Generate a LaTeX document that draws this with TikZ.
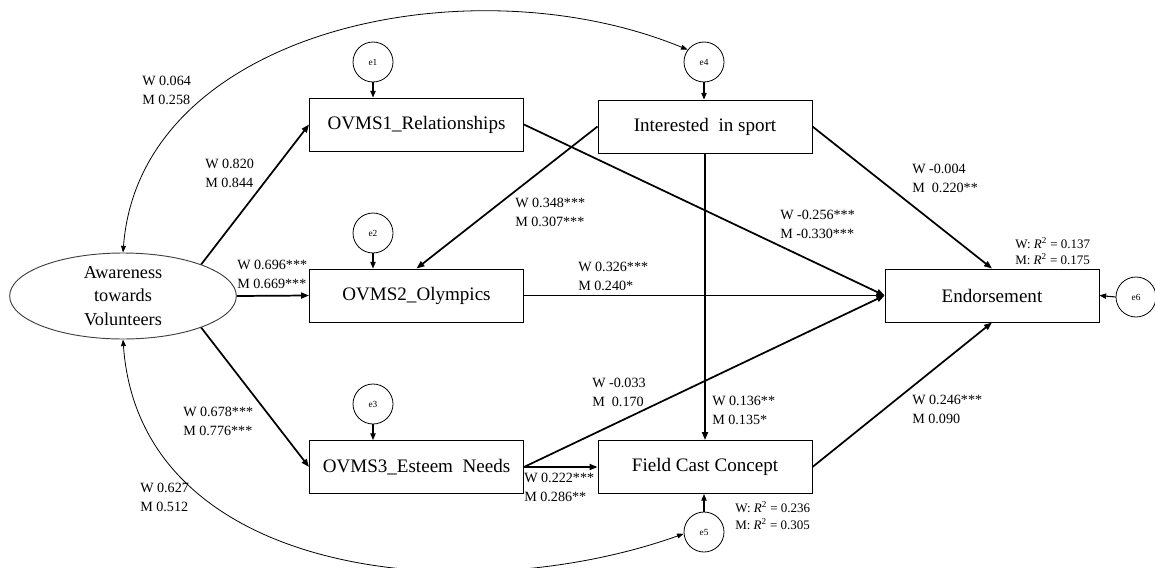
\documentclass[tikz,border=0pt]{standalone}
\usepackage{fontspec}
\setmainfont{Liberation Serif}
\usetikzlibrary{arrows.meta,shapes.geometric}
\begin{document}
\begin{tikzpicture}[x=0.75pt,y=-0.75pt,
  box/.style={draw,line width=0.7pt,minimum width=160.5pt,minimum height=39.75pt,inner sep=0pt,font=\fontsize{14.3}{17}\selectfont},
  err/.style={draw,circle,line width=0.6pt,minimum size=30pt,inner sep=0pt,font=\fontsize{7}{8}\selectfont},
  reg/.style={line width=1.3pt,-{Triangle[length=6pt,width=4.5pt]}},
  earr/.style={line width=0.8pt,-{Triangle[length=5pt,width=4pt]}},
  cov/.style={line width=0.6pt,{Triangle[length=5pt,width=3.6pt]}-{Triangle[length=5pt,width=3.6pt]}},
  lab/.style={anchor=west,align=left,inner sep=0pt,font=\fontsize{10.6}{14.25}\selectfont},
  rlab/.style={anchor=west,align=left,inner sep=0pt,font=\fontsize{9.75}{12.5}\selectfont}]
\useasboundingbox (0,0) rectangle (1155,567);
% nodes
\node[ellipse,draw=black!75,line width=0.7pt,minimum width=170pt,minimum height=64.5pt,inner sep=0pt,align=center,font=\fontsize{13.7}{17.6}\selectfont] (aw) at (123,296) {Awareness\\towards\\Volunteers};
\node[box] (o1) at (416.5,124.5) {OVMS1\_Relationships};
\node[box] (o2) at (416.5,295.5) {OVMS2\_Olympics};
\node[box] (o3) at (416.5,467) {OVMS3\_Esteem\ \ Needs};
\node[box] (is) at (705,126.5) {Interested\ \ in sport};
\node[box] (en) at (992,295.5) {Endorsement};
\node[box] (fc) at (705,467) {Field Cast Concept};
\node[err] (e1) at (373,62) {e1};
\node[err] (e2) at (373,233) {e2};
\node[err] (e3) at (373,404) {e3};
\node[err] (e4) at (704,62) {e4};
\node[err] (e5) at (704,532) {e5};
\node[err] (e6) at (1136,297) {e6};
% error arrows
\draw[earr] (e1.south) -- (e1.south |- o1.north);
\draw[earr] (e2.south) -- (e2.south |- o2.north);
\draw[earr] (e3.south) -- (e3.south |- o3.north);
\draw[earr] (e4.south) -- (e4.south |- is.north);
\draw[earr] (e5.north) -- (e5.north |- fc.south);
\draw[earr] (e6.west) -- (en.east);
% regression paths
\draw[reg] (aw.22) -- (o1.west);
\draw[reg] (aw.east) -- (o2.west);
\draw[reg] (aw.-22) -- (o3.west);
\draw[reg] (o1.east) -- (en.west);
\draw[reg] (o2.east) -- (en.west);
\draw[reg] (o3.east) -- (en.west);
\draw[reg] (o3.east) -- (fc.west);
\draw[reg] (is.west) -- (o2.north);
\draw[reg] (is.east) -- (en.north);
\draw[reg] (is.south) -- (fc.north);
\draw[reg] (fc.east) -- (en.south);
% covariances
\draw[cov] (aw.north) .. controls (140,30) and (470,-40) .. (e4.143);
\draw[cov] (aw.south) .. controls (140,580) and (470,610) .. (e5.185);
% labels
\node[lab] (l1) at (142,90.5) {W 0.064\\M 0.258};
\node[lab] (l2) at (205,173) {W 0.820\\M 0.844};
\node[lab] (l3) at (237,274.5) {W 0.696***\\M 0.669***};
\node[lab] (l4) at (183,421.5) {W 0.678***\\M 0.776***};
\node[lab] (l5) at (140,497.5) {W 0.627\\M 0.512};
\node[lab] (l6) at (515,212.5) {W 0.348***\\M 0.307***};
\node[lab] (l7) at (578,276.5) {W 0.326***\\M 0.240*};
\node[lab] (l8) at (780,224) {W -0.256***\\M -0.330***};
\node[lab] (l9) at (912,178) {W -0.004\\M\ \ 0.220**};
\node[rlab] (l10) at (1015,251) {W: \textit{R}\textsuperscript{2} = 0.137\\M: \textit{R}\textsuperscript{2} = 0.175};
\node[lab] (l11) at (592,392.5) {W -0.033\\M\ \ 0.170};
\node[lab] (l12) at (712,410) {W 0.136**\\M 0.135*};
\node[lab] (l13) at (912,409.5) {W 0.246***\\M 0.090};
\node[lab] (l14) at (524,487) {W 0.222***\\M 0.286**};
\node[rlab] (l15) at (735,515.5) {W: \textit{R}\textsuperscript{2} = 0.236\\M: \textit{R}\textsuperscript{2} = 0.305};
\end{tikzpicture}
\end{document}
